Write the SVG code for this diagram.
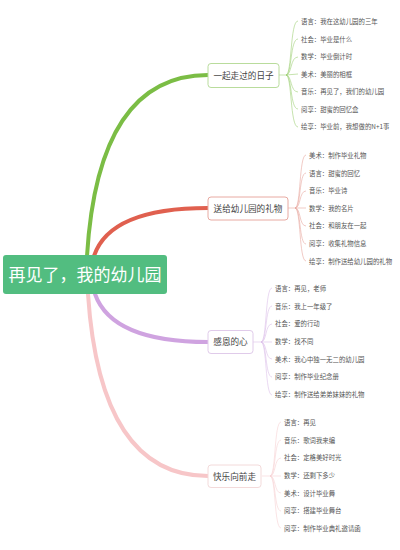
<svg xmlns="http://www.w3.org/2000/svg" width="400" height="550" viewBox="0 0 400 550">
<style>
.root{fill:#52bd80;}
.rt{font-family:"Noto Sans CJK SC","Noto Sans",sans-serif;font-size:17px;fill:#ffffff;}
.box{fill:#ffffff;stroke-width:1;}
.bt{font-family:"Noto Sans CJK SC","Noto Sans",sans-serif;font-size:8.6px;fill:#444444;}
.lt{font-family:"Noto Sans CJK SC","Noto Sans",sans-serif;font-size:6.4px;fill:#555555;}
.main{fill:none;stroke-linecap:round;}
.leaf{fill:none;stroke-width:0.6;}
</style>
<rect width="400" height="550" fill="#ffffff"/>
<g id="connectors">
  <path class="main" d="M87,256 Q98,75 208,75" stroke="#7bbd45" stroke-width="4"/>
  <path class="main" d="M94,256 Q110,208 208,208" stroke="#e0604f" stroke-width="4"/>
  <path class="main" d="M95,294 Q112,342 208,342" stroke="#cfa3e0" stroke-width="4"/>
  <path class="main" d="M88,294 Q100,476 208,476" stroke="#f7c6c8" stroke-width="4"/>
  <g stroke="#9fd077" class="leaf">
    <path d="M279,75 L287,75"/>
    <path d="M286,75 C292,75 290,21 298,21"/>
    <path d="M286,75 C292,75 290,39 298,39"/>
    <path d="M286,75 C292,75 290,57 298,57"/>
    <path d="M286,75 L298,74"/>
    <path d="M286,75 C292,75 290,92 298,92"/>
    <path d="M286,75 C292,75 290,109 298,109"/>
    <path d="M286,75 C292,75 290,127 298,127"/>
  </g>
  <g stroke="#e7a79f" class="leaf">
    <path d="M288,208 L296,208"/>
    <path d="M295,208 C301,208 299,155 306,155"/>
    <path d="M295,208 C301,208 299,173 306,173"/>
    <path d="M295,208 C301,208 299,191 306,191"/>
    <path d="M295,208 L306,208"/>
    <path d="M295,208 C301,208 299,226 306,226"/>
    <path d="M295,208 C301,208 299,244 306,244"/>
    <path d="M295,208 C301,208 299,261 306,261"/>
  </g>
  <g stroke="#dcc0ea" class="leaf">
    <path d="M253,342 L262,342"/>
    <path d="M261,342 C267,342 265,288 272,288"/>
    <path d="M261,342 C267,342 265,306 272,306"/>
    <path d="M261,342 C267,342 265,324 272,324"/>
    <path d="M261,342 L272,342"/>
    <path d="M261,342 C267,342 265,359 272,359"/>
    <path d="M261,342 C267,342 265,377 272,377"/>
    <path d="M261,342 C267,342 265,395 272,395"/>
  </g>
  <g stroke="#f6d2d3" class="leaf">
    <path d="M262,476 L271,476"/>
    <path d="M270,476 C276,476 274,422 281,422"/>
    <path d="M270,476 C276,476 274,440 281,440"/>
    <path d="M270,476 C276,476 274,458 281,458"/>
    <path d="M270,476 L281,476"/>
    <path d="M270,476 C276,476 274,493 281,493"/>
    <path d="M270,476 C276,476 274,511 281,511"/>
    <path d="M270,476 C276,476 274,528 281,528"/>
  </g>
</g>
<g id="root">
  <rect class="root" x="3" y="255" width="164" height="39" rx="3"/>
  <text class="rt" x="85" y="280.5" text-anchor="middle">再见了，我的幼儿园</text>
</g>
<g id="b1">
  <rect class="box" x="208" y="63.5" width="71" height="24" rx="3" stroke="#b9dc9c"/>
  <text class="bt" x="243.5" y="78.5" text-anchor="middle">一起走过的日子</text>
</g>
<g id="b1-leaves">
  <text class="lt" x="301" y="23.5">语言：我在这幼儿园的三年</text>
  <text class="lt" x="301" y="41.5">社会：毕业是什么</text>
  <text class="lt" x="301" y="59">数学：毕业倒计时</text>
  <text class="lt" x="301" y="76.5">美术：美丽的相框</text>
  <text class="lt" x="301" y="94">音乐：再见了，我们的幼儿园</text>
  <text class="lt" x="301" y="111.5">阅享：甜蜜的回忆盒</text>
  <text class="lt" x="301" y="129">绘享：毕业前，我想做的N+1事</text>
</g>
<g id="b2">
  <rect class="box" x="208" y="197" width="80" height="23" rx="3" stroke="#e8aaa2"/>
  <text class="bt" x="248" y="211.5" text-anchor="middle">送给幼儿园的礼物</text>
</g>
<g id="b2-leaves">
  <text class="lt" x="309" y="157.5">美术：制作毕业礼物</text>
  <text class="lt" x="309" y="175.5">语言：甜蜜的回忆</text>
  <text class="lt" x="309" y="193">音乐：毕业诗</text>
  <text class="lt" x="309" y="210.5">数学：我的名片</text>
  <text class="lt" x="309" y="228">社会：和朋友在一起</text>
  <text class="lt" x="309" y="246">阅享：收集礼物信息</text>
  <text class="lt" x="309" y="263.5">绘享：制作送给幼儿园的礼物</text>
</g>
<g id="b3">
  <rect class="box" x="208" y="330.5" width="45" height="23" rx="3" stroke="#e0cbea"/>
  <text class="bt" x="230.5" y="345" text-anchor="middle">感恩的心</text>
</g>
<g id="b3-leaves">
  <text class="lt" x="275" y="290.5">语言：再见，老师</text>
  <text class="lt" x="275" y="308.5">音乐：我上一年级了</text>
  <text class="lt" x="275" y="326">社会：爱的行动</text>
  <text class="lt" x="275" y="344">数学：找不同</text>
  <text class="lt" x="275" y="361.5">美术：我心中独一无二的幼儿园</text>
  <text class="lt" x="275" y="379">阅享：制作毕业纪念册</text>
  <text class="lt" x="275" y="397">绘享：制作送给弟弟妹妹的礼物</text>
</g>
<g id="b4">
  <rect class="box" x="208" y="465" width="53" height="22.5" rx="3" stroke="#f3dada"/>
  <text class="bt" x="234.5" y="479.5" text-anchor="middle">快乐向前走</text>
</g>
<g id="b4-leaves">
  <text class="lt" x="284" y="424.5">语言：再见</text>
  <text class="lt" x="284" y="442.5">音乐：歌词我来编</text>
  <text class="lt" x="284" y="460">社会：定格美好时光</text>
  <text class="lt" x="284" y="478">数学：还剩下多少</text>
  <text class="lt" x="284" y="495.5">美术：设计毕业舞</text>
  <text class="lt" x="284" y="513">阅享：搭建毕业舞台</text>
  <text class="lt" x="284" y="530.5">阅享：制作毕业典礼邀请函</text>
</g>
</svg>
